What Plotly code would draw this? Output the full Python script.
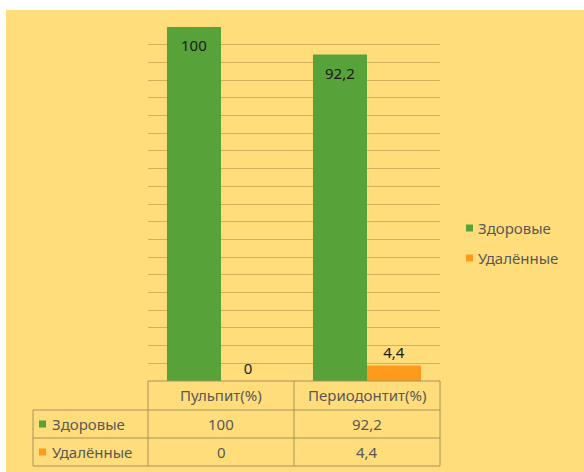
import plotly.graph_objects as go

# ---- data ----
categories = ["Пульпит(%)", "Периодонтит(%)"]
series_names = ["Здоровые", "Удалённые"]
healthy = [100, 92.2]
removed = [0, 4.4]
series_values = [healthy, removed]
series_colors = ["#58A23A", "#FF9B1C"]

W, H = 584, 472
FONT = "Noto Sans"
FS = 15
BG = "#FFDD7A"
LINE = "#A8925E"
TXT = "#595959"


def fmt(v):
    return f"{v:g}".replace(".", ",")


def px_x(x):
    return x / W


def px_y(y):
    return (H - y) / H


# plot geometry (pixels)
plot_left, plot_right = 148, 440
base_y, top_y = 381, 27

fig = go.Figure()
for i, (name, vals, col) in enumerate(zip(series_names, series_values, series_colors)):
    fig.add_trace(go.Bar(
        x=categories, y=vals, name=name, marker=dict(color=col, line=dict(width=0)),
        text=None if i == 0 else [fmt(v) for v in vals],
        textposition="outside",
        textangle=0,
        constraintext="none",
        cliponaxis=False,
        textfont=dict(family=FONT, size=FS, color="#1a1a1a"),
        showlegend=False,
    ))

xdom = [px_x(plot_left), px_x(plot_right)]
fig.update_layout(
    width=W, height=H,
    margin=dict(l=0, r=0, t=0, b=0),
    paper_bgcolor="white",
    plot_bgcolor="rgba(0,0,0,0)",
    barmode="group", bargap=0.26, bargroupgap=0,
    separators=", ",
    font=dict(family=FONT, size=FS, color=TXT),
    xaxis=dict(domain=xdom, showticklabels=False, showgrid=False, zeroline=False,
               showline=False, ticks="", fixedrange=True),
    yaxis=dict(domain=[px_y(base_y), px_y(top_y)], range=[0, 100], dtick=5,
               showticklabels=False, showgrid=True, gridcolor="rgba(150,110,40,0.40)",
               gridwidth=1, zeroline=False, showline=False, ticks=""),
    showlegend=False,
)

shapes = []
annotations = []
# yellow background with white strip on top/left
shapes.append(dict(type="rect", xref="paper", yref="paper", x0=px_x(6), x1=1,
                   y0=0, y1=px_y(10), fillcolor=BG, line=dict(width=0), layer="below"))

# inside-end labels for the first series (placed on the bar tops via the data scale)
ncat = len(categories)
cat_w = (plot_right - plot_left) / ncat
bar_w = cat_w * (1 - 0.26) / len(series_names)
for k, v in enumerate(healthy):
    annotations.append(dict(x=categories[k], y=v, xref="x", yref="y", text=fmt(v),
                            showarrow=False, xanchor="center", yanchor="middle",
                            xshift=-bar_w / 2, yshift=-18,
                            font=dict(family=FONT, size=FS, color="#1a1a1a")))

# data table
row_lines = [381, 410, 438, 466]
tbl_left = 33
col_bounds = [plot_left + cat_w * k for k in range(ncat + 1)]


def hline(y, x0, x1):
    shapes.append(dict(type="line", xref="paper", yref="paper", x0=px_x(x0), x1=px_x(x1),
                       y0=px_y(y), y1=px_y(y), line=dict(color=LINE, width=1)))


def vline(x, y0, y1):
    shapes.append(dict(type="line", xref="paper", yref="paper", x0=px_x(x), x1=px_x(x),
                       y0=px_y(y0), y1=px_y(y1), line=dict(color=LINE, width=1)))


hline(row_lines[0], plot_left, plot_right)
for y in row_lines[1:]:
    hline(y, tbl_left, plot_right)
vline(tbl_left, row_lines[1], row_lines[-1])
for xb in col_bounds:
    vline(xb, row_lines[0], row_lines[-1])

# header
for k, cat in enumerate(categories):
    cx = (col_bounds[k] + col_bounds[k + 1]) / 2
    cy = (row_lines[0] + row_lines[1]) / 2
    annotations.append(dict(x=px_x(cx), y=px_y(cy), xref="paper", yref="paper", text=cat,
                            showarrow=False, xanchor="center", yanchor="middle",
                            font=dict(family=FONT, size=FS, color=TXT)))
# rows
for r, (name, vals, col) in enumerate(zip(series_names, series_values, series_colors)):
    y0, y1 = row_lines[r + 1], row_lines[r + 2]
    cy = (y0 + y1) / 2
    shapes.append(dict(type="rect", xref="paper", yref="paper", x0=px_x(39), x1=px_x(46),
                       y0=px_y(cy + 3.5), y1=px_y(cy - 3.5), fillcolor=col, line=dict(width=0)))
    annotations.append(dict(x=px_x(50), y=px_y(cy), xref="paper", yref="paper", text=name,
                            showarrow=False, xanchor="left", yanchor="middle",
                            font=dict(family=FONT, size=FS, color=TXT)))
    for k, v in enumerate(vals):
        cx = (col_bounds[k] + col_bounds[k + 1]) / 2
        annotations.append(dict(x=px_x(cx), y=px_y(cy), xref="paper", yref="paper", text=fmt(v),
                                showarrow=False, xanchor="center", yanchor="middle",
                                font=dict(family=FONT, size=FS, color=TXT)))

# legend (right side)
leg_y = [228, 258]
for name, col, ly in zip(series_names, series_colors, leg_y):
    shapes.append(dict(type="rect", xref="paper", yref="paper", x0=px_x(466), x1=px_x(473),
                       y0=px_y(ly + 3.5), y1=px_y(ly - 3.5), fillcolor=col, line=dict(width=0)))
    annotations.append(dict(x=px_x(476), y=px_y(ly), xref="paper", yref="paper", text=name,
                            showarrow=False, xanchor="left", yanchor="middle",
                            font=dict(family=FONT, size=FS, color=TXT)))

fig.update_layout(shapes=shapes, annotations=annotations)
fig.write_html("out.html")
